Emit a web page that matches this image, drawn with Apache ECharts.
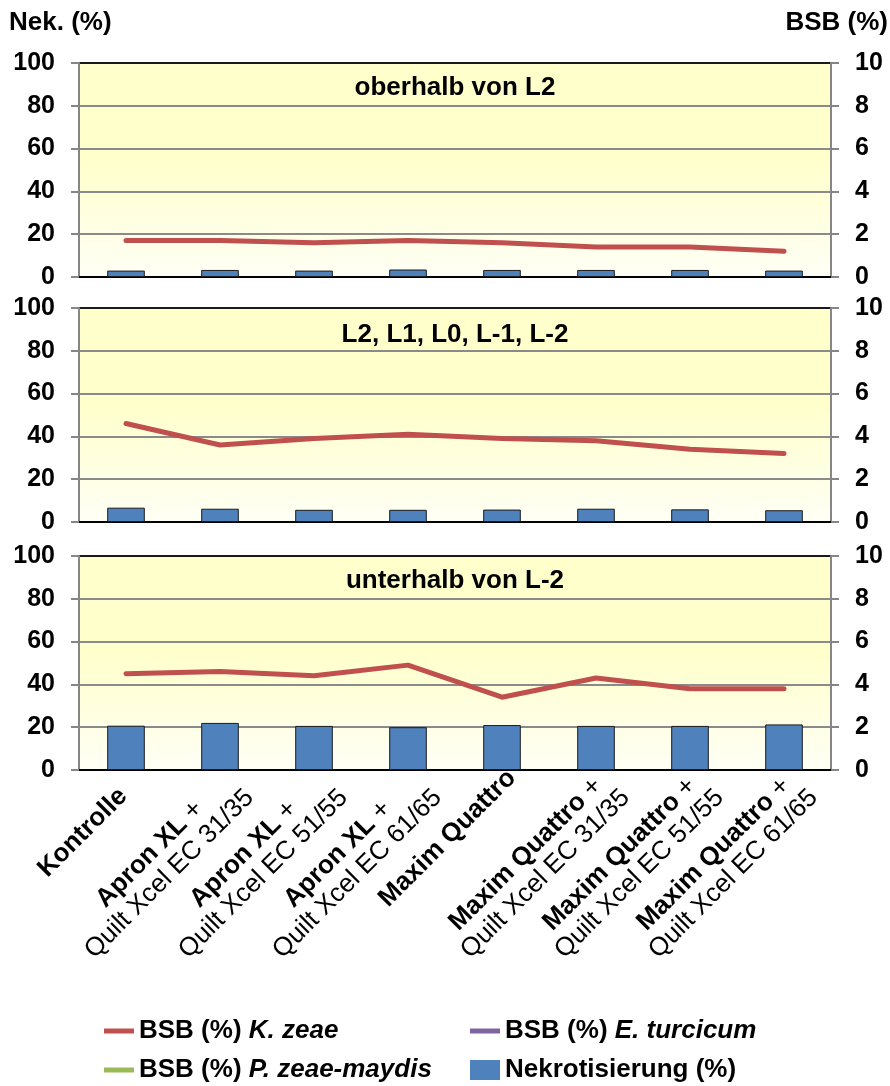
<!DOCTYPE html>
<html>
<head>
<meta charset="utf-8">
<script src="https://cdn.jsdelivr.net/npm/echarts@6/dist/echarts.min.js"></script>
<style>
html,body{margin:0;padding:0;background:#fff;}
#chart{width:890px;height:1086px;}
</style>
</head>
<body>
<div id="chart"></div>
<script>
// ---- Data ----
const catBold   = ['Kontrolle', 'Apron XL', 'Apron XL', 'Apron XL', 'Maxim Quattro', 'Maxim Quattro', 'Maxim Quattro', 'Maxim Quattro'];
const catPlus   = ['', ' +', ' +', ' +', '', ' +', ' +', ' +'];
const catLine2  = ['', 'Quilt Xcel EC 31/35', 'Quilt Xcel EC 51/55', 'Quilt Xcel EC 61/65', '', 'Quilt Xcel EC 31/35', 'Quilt Xcel EC 51/55', 'Quilt Xcel EC 61/65'];
const categories = catBold.map((b, i) => b + catPlus[i] + (catLine2[i] ? ' ' + catLine2[i] : ''));

const panelTitles = ['oberhalb von L2', 'L2, L1, L0, L-1, L-2', 'unterhalb von L-2'];

// Nekrotisierung (%) – left axis
const nekOben   = [3.0, 3.3, 3.0, 3.5, 3.3, 3.3, 3.3, 3.0];
const nekMitte  = [6.7, 6.2, 5.7, 5.7, 5.8, 6.2, 5.9, 5.5];
const nekUnten  = [20.7, 22.0, 20.6, 20.0, 21.0, 20.6, 20.6, 21.3];
// BSB (%) K. zeae – right axis
const kzOben    = [1.7, 1.7, 1.6, 1.7, 1.6, 1.4, 1.4, 1.2];
const kzMitte   = [4.6, 3.6, 3.9, 4.1, 3.9, 3.8, 3.4, 3.2];
const kzUnten   = [4.5, 4.6, 4.4, 4.9, 3.4, 4.3, 3.8, 3.8];
// BSB (%) E. turcicum and P. zeae-maydis – no values shown
const etData    = [];
const pzData    = [];

const leftTicks  = {min: 0, max: 100, interval: 20};
const rightTicks = {min: 0, max: 10, interval: 2};

const nekPanels = [nekOben, nekMitte, nekUnten];
const kzPanels  = [kzOben, kzMitte, kzUnten];

// ---- Styles ----
const FONT = '"Liberation Sans", Arial, Helvetica, sans-serif';
const tops = [63, 308, 556];
const gridH = 214;
const NAME_KZ = 'BSB (%) K. zeae';
const NAME_ET = 'BSB (%) E. turcicum';
const NAME_PZ = 'BSB (%) P. zeae-maydis';
const NAME_NEK = 'Nekrotisierung (%)';
const LBL = 26;

const bg = new echarts.graphic.LinearGradient(0, 0, 0, 1, [
  {offset: 0, color: '#FFFFCC'},
  {offset: 0.45, color: '#FFFFCC'},
  {offset: 1, color: '#FFFFF6'}
]);

const grids = tops.map(t => ({
  left: 79, right: 59, top: t, height: gridH,
  show: true, backgroundColor: bg, borderWidth: 0
}));

const xAxes = tops.map((t, i) => ({
  type: 'category', gridIndex: i, data: categories,
  boundaryGap: true,
  axisLine: {show: true, lineStyle: {color: '#000', width: 2}},
  axisTick: {show: false},
  axisLabel: i < 2 ? {show: false} : {
    show: true, interval: 0, rotate: 45, margin: -6,
    verticalAlign: 'top',
    fontFamily: FONT, fontSize: LBL, color: '#000', lineHeight: 28,
    formatter: function (v, idx) {
      if (idx === 0) return '{k|' + catBold[idx] + '}';
      let s = '{b|' + catBold[idx] + '}';
      if (catPlus[idx]) s += '{n|' + catPlus[idx] + '}';
      if (catLine2[idx]) s += '\n{n|' + catLine2[idx] + '}';
      return s;
    },
    rich: {
      k: {fontFamily: FONT, fontSize: LBL, fontWeight: 'bold', color: '#000', align: 'center', lineHeight: 28, padding: [8, 22, 0, 0]},
      b: {fontFamily: FONT, fontSize: LBL, fontWeight: 'bold', color: '#000', align: 'center', lineHeight: 28},
      n: {fontFamily: FONT, fontSize: LBL, fontWeight: 'normal', color: '#000', align: 'center', lineHeight: 28}
    }
  },
  splitLine: {show: false}
}));

const yAxes = [];
tops.forEach((t, i) => {
  yAxes.push({
    type: 'value', gridIndex: i, position: 'left',
    min: leftTicks.min, max: leftTicks.max, interval: leftTicks.interval,
    axisLine: {show: true, lineStyle: {color: '#868686', width: 2}},
    axisTick: {show: true, length: 8, lineStyle: {color: '#868686', width: 2}},
    axisLabel: {margin: 24, fontFamily: FONT, fontSize: 25, fontWeight: 'bold', color: '#000'},
    splitLine: {show: true, lineStyle: {color: ['#8a8a8a', '#8a8a8a', '#8a8a8a', '#8a8a8a', '#8a8a8a', '#1a1a1a'], width: 2}}
  });
  yAxes.push({
    type: 'value', gridIndex: i, position: 'right',
    min: rightTicks.min, max: rightTicks.max, interval: rightTicks.interval,
    axisLine: {show: true, lineStyle: {color: '#868686', width: 2}},
    axisTick: {show: true, length: 8, lineStyle: {color: '#868686', width: 2}},
    axisLabel: {margin: 24, fontFamily: FONT, fontSize: 25, fontWeight: 'bold', color: '#000'},
    splitLine: {show: false}
  });
});

const series = [];
tops.forEach((t, i) => {
  series.push({
    name: NAME_NEK, type: 'bar', xAxisIndex: i, yAxisIndex: 2 * i,
    data: nekPanels[i], barWidth: '40%', color: '#4F81BD',
    itemStyle: {color: '#4F81BD', borderColor: '#1b1b1b', borderWidth: 1},
    z: 2
  });
  series.push({
    name: NAME_KZ, type: 'line', xAxisIndex: i, yAxisIndex: 2 * i + 1,
    data: kzPanels[i], color: '#C0504D', showSymbol: false, symbol: 'none',
    lineStyle: {color: '#C0504D', width: 5, cap: 'round', join: 'round'},
    z: 3
  });
});
series.push({name: NAME_ET, type: 'line', xAxisIndex: 0, yAxisIndex: 1, data: etData, color: '#8064A2', symbol: 'none', lineStyle: {color: '#8064A2', width: 5}});
series.push({name: NAME_PZ, type: 'line', xAxisIndex: 0, yAxisIndex: 1, data: pzData, color: '#9BBB59', symbol: 'none', lineStyle: {color: '#9BBB59', width: 5}});

const lineIcon = 'path://M0,0L30,0L30,5L0,5Z';
function legendFmt(name) {
  const p = 'BSB (%) ';
  if (name.indexOf(p) === 0) return p + '{i|' + name.slice(p.length) + '}';
  return name;
}
const legendText = {
  fontFamily: FONT, fontSize: 26, fontWeight: 'bold', color: '#000', lineHeight: 26,
  rich: {i: {fontFamily: FONT, fontSize: 26, fontWeight: 'bold', fontStyle: 'italic', color: '#000', lineHeight: 26}}
};
function oneLegend(name, icon, color, left, cy) {
  return {
    orient: 'horizontal', left: left, top: cy - 13, padding: 0,
    itemWidth: 30, itemHeight: 20,
    formatter: legendFmt, textStyle: legendText, selectedMode: false,
    data: [{name: name, icon: icon, itemStyle: {color: color, borderWidth: 0}}]
  };
}

const option = {
  animation: false,
  backgroundColor: '#ffffff',
  grid: grids,
  xAxis: xAxes,
  yAxis: yAxes,
  series: series,
  legend: [
    oneLegend(NAME_KZ, lineIcon, '#C0504D', 104, 1031),
    oneLegend(NAME_PZ, lineIcon, '#9BBB59', 104, 1070),
    oneLegend(NAME_ET, lineIcon, '#8064A2', 470, 1031),
    oneLegend(NAME_NEK, 'rect', '#4F81BD', 470, 1070)
  ],
  graphic: [
    {type: 'text', x: 9, y: 23, style: {text: 'Nek. (%)', font: 'bold 26px ' + FONT, fill: '#000', align: 'left', verticalAlign: 'middle'}},
    {type: 'text', x: 888, y: 23, style: {text: 'BSB (%)', font: 'bold 26px ' + FONT, fill: '#000', align: 'right', verticalAlign: 'middle'}}
  ].concat(panelTitles.map((txt, i) => ({
    type: 'text', x: 455, y: [88, 335, 581][i], z: 10,
    style: {text: txt, font: 'bold 26px ' + FONT, fill: '#000', align: 'center', verticalAlign: 'middle'}
  })))
};

const chart = echarts.init(document.getElementById('chart'), null, {renderer: 'canvas'});
chart.setOption(option);
</script>
</body>
</html>
